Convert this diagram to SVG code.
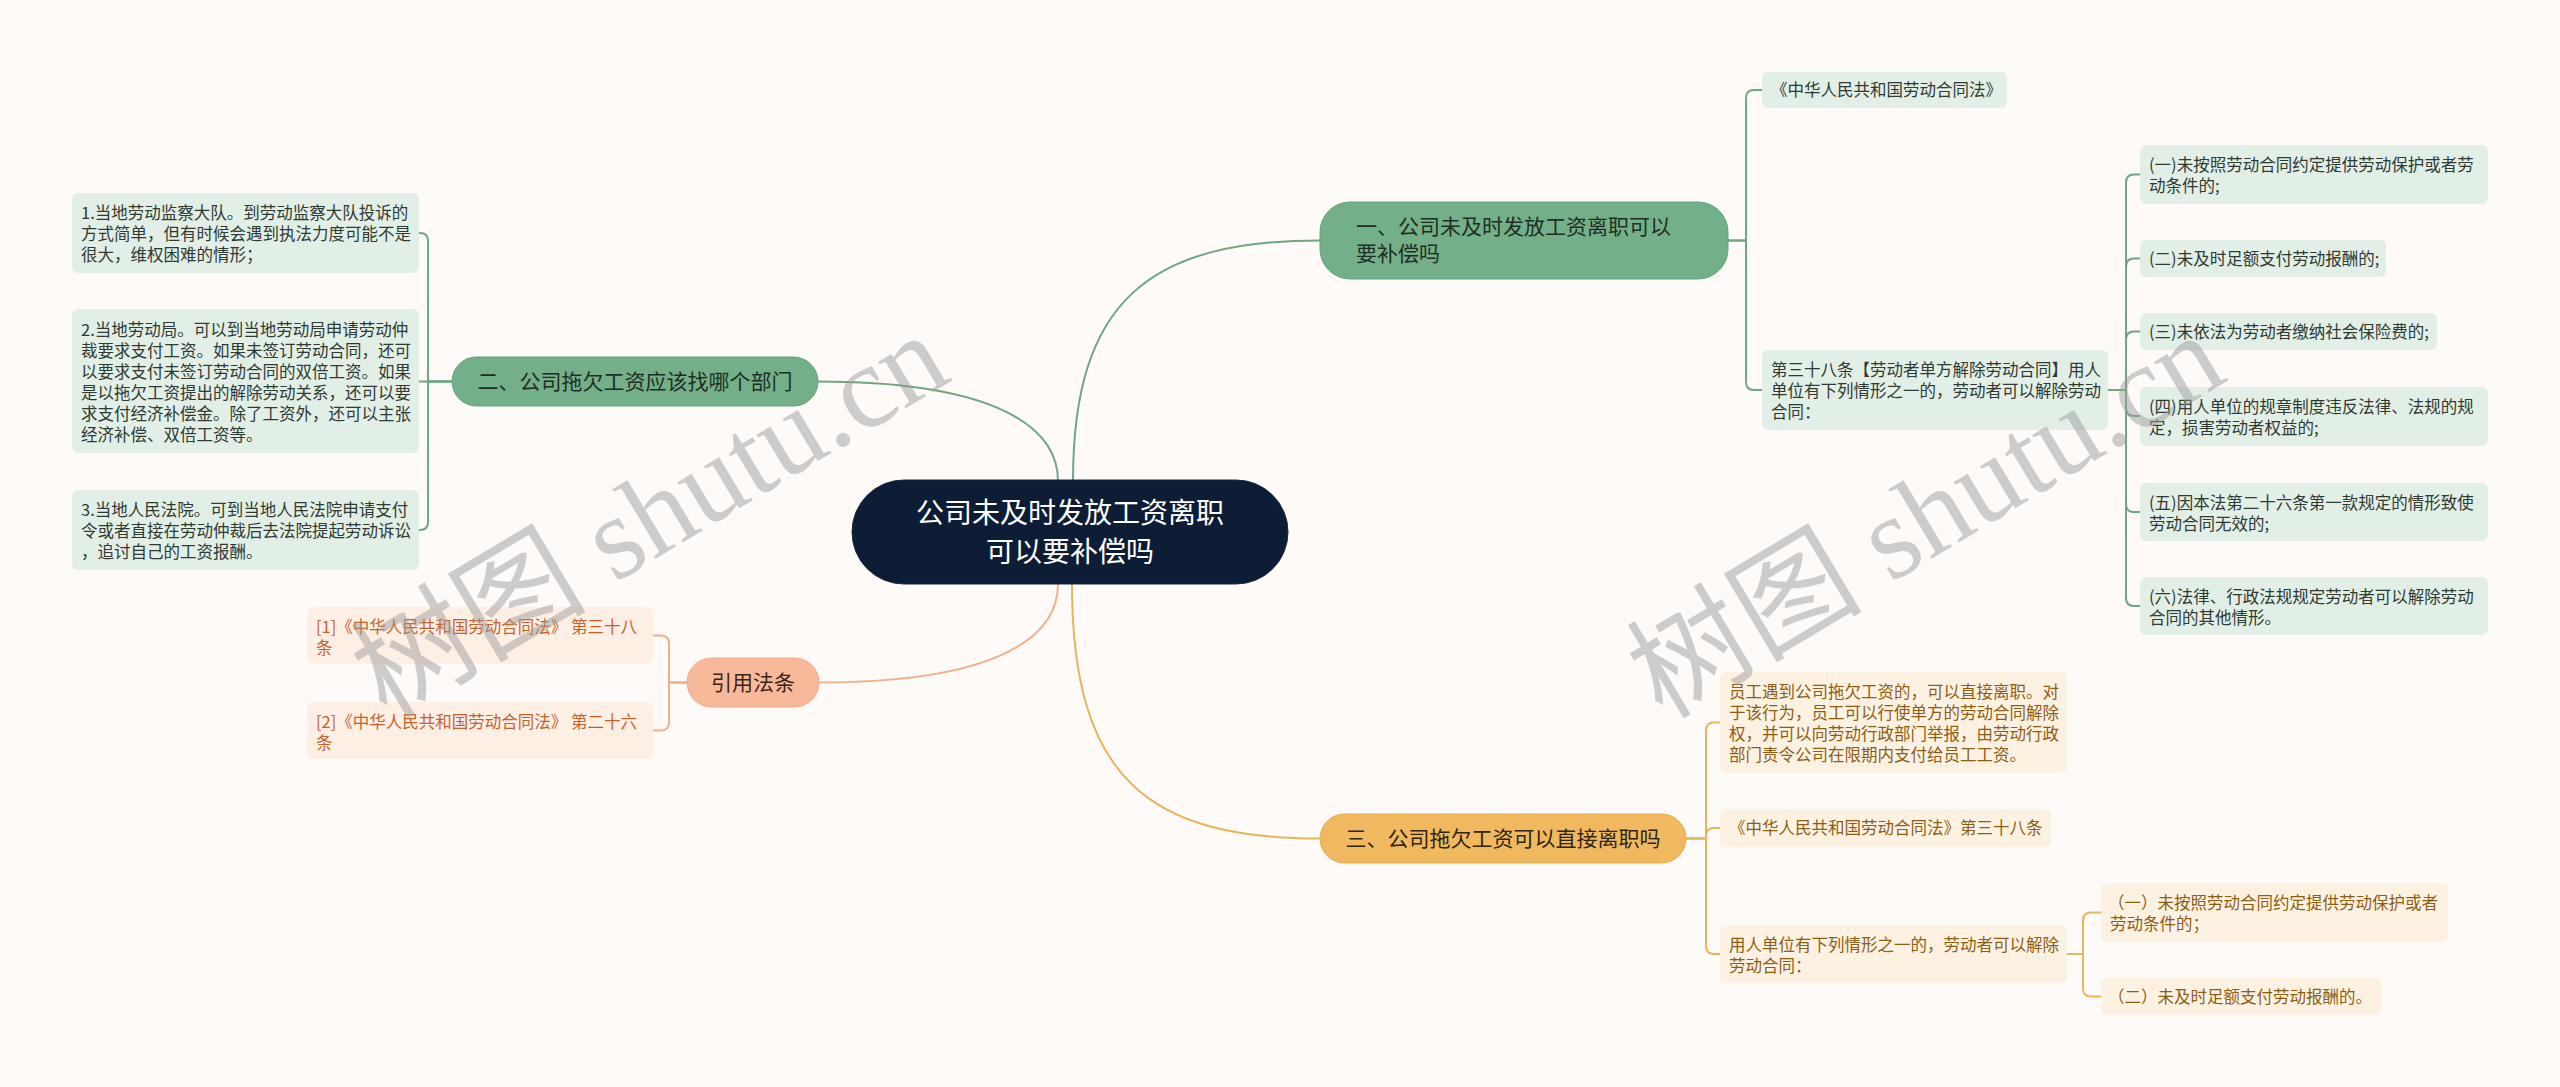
<svg xmlns="http://www.w3.org/2000/svg" width="2560" height="1087" viewBox="0 0 2560 1087">
<style>
text{font-family:"Noto Sans CJK SC","Liberation Sans",sans-serif}
.lf{font-size:16.5px}
.g{fill:#e2efe6}
.gt{fill:#2f3a33}
.o{fill:#fdf2e2}
.ot{fill:#8e5d14}
.s{fill:#fdefe4}
.st{fill:#c4622d}
.br{font-size:21px}
.cg{fill:none;stroke:#6fa783;stroke-width:2}
.co{fill:none;stroke:#e6b65c;stroke-width:2}
.cs{fill:none;stroke:#f0b08c;stroke-width:2}
.wm{font-family:"Liberation Serif","Noto Sans CJK SC",serif;font-size:118px;fill:#9a9a9a;fill-opacity:0.48}
</style>
<rect x="0" y="0" width="2560" height="1087" fill="#fdfaf8"/>

<g id="connectors">
  <path class="cg" stroke-width="2.5" d="M1073,481 C1073,300 1150,240.5 1320,240.5"/>
  <path class="cg" stroke-width="2.5" d="M1058,481 C1058,420 980,381.5 818,381.5"/>
  <path class="cs" stroke-width="2.5" d="M1058,584 C1058,645 980,682.5 819,682.5"/>
  <path class="co" stroke-width="2.5" d="M1072,584 C1072,780 1150,838.5 1320,838.5"/>

  <path class="cg" d="M1728,240.5 H1746 V98 Q1746,90 1754,90 H1762"/>
  <path class="cg" d="M1728,240.5 H1746 V382 Q1746,390 1754,390 H1762"/>

  <path class="cg" d="M2108,390 H2126 V182.5 Q2126,174.5 2134,174.5 H2140"/>
  <path class="cg" d="M2108,390 H2126 V266.5 Q2126,258.5 2134,258.5 H2140"/>
  <path class="cg" d="M2108,390 H2126 V339.5 Q2126,331.5 2134,331.5 H2140"/>
  <path class="cg" d="M2108,390 H2126 V408 Q2126,416 2134,416 H2140"/>
  <path class="cg" d="M2108,390 H2126 V504 Q2126,512 2134,512 H2140"/>
  <path class="cg" d="M2108,390 H2126 V598 Q2126,606 2134,606 H2140"/>

  <path class="cg" d="M452,381.5 H428 V241 Q428,233 420,233 H419"/>
  <path class="cg" d="M452,381.5 H419"/>
  <path class="cg" d="M452,381.5 H428 V522 Q428,530 420,530 H419"/>

  <path class="cs" d="M687,682.5 H669 V643.5 Q669,635.5 661,635.5 H653"/>
  <path class="cs" d="M687,682.5 H669 V722.5 Q669,730.5 661,730.5 H653"/>

  <path class="co" d="M1686,838.5 H1706 V730.5 Q1706,722.5 1714,722.5 H1720"/>
  <path class="co" d="M1686,838.5 H1706 V836 Q1706,828 1714,828 H1720"/>
  <path class="co" d="M1686,838.5 H1706 V946 Q1706,954 1714,954 H1720"/>

  <path class="co" d="M2067,954 H2083 V920.5 Q2083,912.5 2091,912.5 H2101"/>
  <path class="co" d="M2067,954 H2083 V988.5 Q2083,996.5 2091,996.5 H2101"/>
</g>

<g id="root">
  <rect x="852" y="480" width="436" height="104" rx="52" fill="#0e1d36" stroke="#1a2a44" stroke-width="1"/>
  <text x="1070" y="523" font-size="28" fill="#ffffff" text-anchor="middle">公司未及时发放工资离职</text>
  <text x="1070" y="562" font-size="28" fill="#ffffff" text-anchor="middle">可以要补偿吗</text>
</g>

<g id="b1">
  <rect x="1320" y="202" width="408" height="77" rx="30" fill="#73af88" stroke="#65a27b" stroke-width="1"/>
  <text class="br" x="1356" y="234" fill="#1f2e24">一、公司未及时发放工资离职可以</text>
  <text class="br" x="1356" y="261" fill="#1f2e24">要补偿吗</text>
</g>
<g id="b1a">
  <rect class="g" x="1762" y="72" width="245" height="36" rx="6"/>
  <text class="lf gt" x="1771" y="96">《中华人民共和国劳动合同法》</text>
</g>
<g id="b1b">
  <rect class="g" x="1762" y="350" width="346" height="80" rx="6"/>
  <text class="lf gt" x="1771" y="376">第三十八条【劳动者单方解除劳动合同】用人</text>
  <text class="lf gt" x="1771" y="397">单位有下列情形之一的，劳动者可以解除劳动</text>
  <text class="lf gt" x="1771" y="418">合同：</text>
</g>
<g id="b1b1">
  <rect class="g" x="2140" y="145" width="348" height="59" rx="6"/>
  <text class="lf gt" x="2149" y="171">(一)未按照劳动合同约定提供劳动保护或者劳</text>
  <text class="lf gt" x="2149" y="192">动条件的;</text>
</g>
<g id="b1b2">
  <rect class="g" x="2140" y="240" width="246" height="37" rx="6"/>
  <text class="lf gt" x="2149" y="264.5">(二)未及时足额支付劳动报酬的;</text>
</g>
<g id="b1b3">
  <rect class="g" x="2140" y="313" width="297" height="37" rx="6"/>
  <text class="lf gt" x="2149" y="337.5">(三)未依法为劳动者缴纳社会保险费的;</text>
</g>
<g id="b1b4">
  <rect class="g" x="2140" y="387" width="348" height="59" rx="6"/>
  <text class="lf gt" x="2149" y="413">(四)用人单位的规章制度违反法律、法规的规</text>
  <text class="lf gt" x="2149" y="434">定，损害劳动者权益的;</text>
</g>
<g id="b1b5">
  <rect class="g" x="2140" y="483" width="348" height="58" rx="6"/>
  <text class="lf gt" x="2149" y="509">(五)因本法第二十六条第一款规定的情形致使</text>
  <text class="lf gt" x="2149" y="530">劳动合同无效的;</text>
</g>
<g id="b1b6">
  <rect class="g" x="2140" y="577" width="348" height="58" rx="6"/>
  <text class="lf gt" x="2149" y="603">(六)法律、行政法规规定劳动者可以解除劳动</text>
  <text class="lf gt" x="2149" y="624">合同的其他情形。</text>
</g>

<g id="b2">
  <rect x="452" y="357" width="366" height="49" rx="24.5" fill="#73af88" stroke="#65a27b" stroke-width="1"/>
  <text class="br" x="635" y="389" fill="#1f2e24" text-anchor="middle">二、公司拖欠工资应该找哪个部门</text>
</g>
<g id="b2a">
  <rect class="g" x="72" y="193" width="347" height="80" rx="6"/>
  <text class="lf gt" x="81" y="219">1.当地劳动监察大队。到劳动监察大队投诉的</text>
  <text class="lf gt" x="81" y="240">方式简单，但有时候会遇到执法力度可能不是</text>
  <text class="lf gt" x="81" y="261">很大，维权困难的情形；</text>
</g>
<g id="b2b">
  <rect class="g" x="72" y="309" width="347" height="144" rx="6"/>
  <text class="lf gt" x="81" y="336">2.当地劳动局。可以到当地劳动局申请劳动仲</text>
  <text class="lf gt" x="81" y="357">裁要求支付工资。如果未签订劳动合同，还可</text>
  <text class="lf gt" x="81" y="378">以要求支付未签订劳动合同的双倍工资。如果</text>
  <text class="lf gt" x="81" y="399">是以拖欠工资提出的解除劳动关系，还可以要</text>
  <text class="lf gt" x="81" y="420">求支付经济补偿金。除了工资外，还可以主张</text>
  <text class="lf gt" x="81" y="441">经济补偿、双倍工资等。</text>
</g>
<g id="b2c">
  <rect class="g" x="72" y="490" width="347" height="80" rx="6"/>
  <text class="lf gt" x="81" y="516">3.当地人民法院。可到当地人民法院申请支付</text>
  <text class="lf gt" x="81" y="537">令或者直接在劳动仲裁后去法院提起劳动诉讼</text>
  <text class="lf gt" x="81" y="558">，追讨自己的工资报酬。</text>
</g>

<g id="b4">
  <rect x="687" y="658" width="132" height="49" rx="24.5" fill="#f8b99b" stroke="#f0ab8a" stroke-width="1"/>
  <text class="br" x="753" y="690" fill="#3a2418" text-anchor="middle">引用法条</text>
</g>
<g id="b4a">
  <rect class="s" x="307" y="607" width="346" height="57" rx="6"/>
  <text class="lf st" x="316" y="633">[1]《中华人民共和国劳动合同法》 第三十八</text>
  <text class="lf st" x="316" y="654">条</text>
</g>
<g id="b4b">
  <rect class="s" x="307" y="702" width="346" height="57" rx="6"/>
  <text class="lf st" x="316" y="728">[2]《中华人民共和国劳动合同法》 第二十六</text>
  <text class="lf st" x="316" y="749">条</text>
</g>

<g id="b3">
  <rect x="1320" y="814" width="366" height="49" rx="24.5" fill="#f0b95f" stroke="#e6ad50" stroke-width="1"/>
  <text class="br" x="1503" y="846" fill="#2e2410" text-anchor="middle">三、公司拖欠工资可以直接离职吗</text>
</g>
<g id="b3a">
  <rect class="o" x="1720" y="672" width="347" height="101" rx="6"/>
  <text class="lf ot" x="1729" y="698">员工遇到公司拖欠工资的，可以直接离职。对</text>
  <text class="lf ot" x="1729" y="719">于该行为，员工可以行使单方的劳动合同解除</text>
  <text class="lf ot" x="1729" y="740">权，并可以向劳动行政部门举报，由劳动行政</text>
  <text class="lf ot" x="1729" y="761">部门责令公司在限期内支付给员工工资。</text>
</g>
<g id="b3b">
  <rect class="o" x="1720" y="809" width="331" height="38" rx="6"/>
  <text class="lf ot" x="1729" y="834">《中华人民共和国劳动合同法》第三十八条</text>
</g>
<g id="b3c">
  <rect class="o" x="1720" y="925" width="347" height="58" rx="6"/>
  <text class="lf ot" x="1729" y="951">用人单位有下列情形之一的，劳动者可以解除</text>
  <text class="lf ot" x="1729" y="972">劳动合同：</text>
</g>
<g id="b3c1">
  <rect class="o" x="2101" y="883" width="347" height="59" rx="6"/>
  <text class="lf ot" x="2108" y="909">（一）未按照劳动合同约定提供劳动保护或者</text>
  <text class="lf ot" x="2110" y="930">劳动条件的；</text>
</g>
<g id="b3c2">
  <rect class="o" x="2101" y="978" width="280" height="37" rx="6"/>
  <text class="lf ot" x="2108" y="1002.5">（二）未及时足额支付劳动报酬的。</text>
</g>

<g id="watermarks">
  <text class="wm" transform="translate(650,516) rotate(-31)" text-anchor="middle" dominant-baseline="central">树图 shutu.cn</text>
  <text class="wm" transform="translate(1926,516) rotate(-31)" text-anchor="middle" dominant-baseline="central">树图 shutu.cn</text>
</g>
</svg>
